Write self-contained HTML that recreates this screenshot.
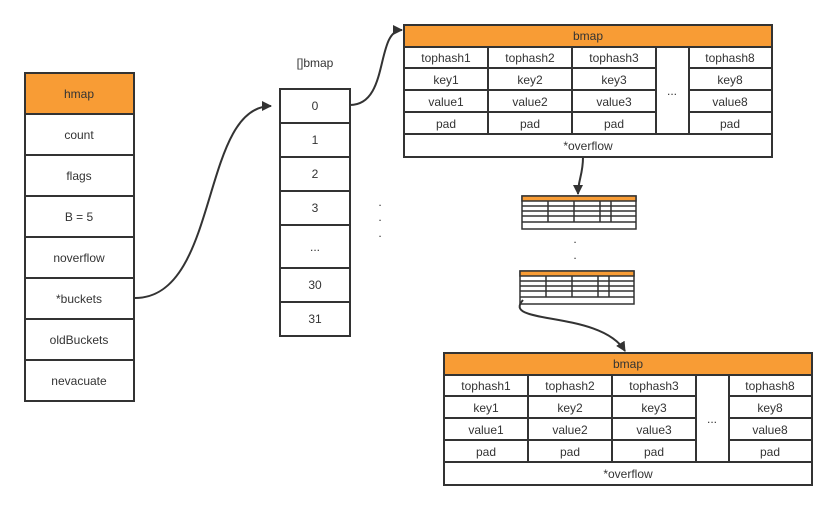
<!DOCTYPE html>
<html><head><meta charset="utf-8"><style>
body{margin:0;background:#fff}
text{font-family:"Liberation Sans",sans-serif;font-size:12px;fill:#333;text-anchor:middle}
</style></head><body>
<svg width="836" height="510" viewBox="0 0 836 510" xmlns="http://www.w3.org/2000/svg">
<defs><marker id="a" markerWidth="10" markerHeight="10" refX="9" refY="5" orient="auto" markerUnits="userSpaceOnUse"><path d="M0,0 L10,5 L0,10 Z" fill="#333"/></marker></defs>
<g stroke="#333" stroke-width="2" fill="#fff">
<!-- hmap -->
<rect x="25" y="73" width="109" height="41" fill="#f89c35"/>
<rect x="25" y="114" width="109" height="41"/><rect x="25" y="155" width="109" height="41"/>
<rect x="25" y="196" width="109" height="41"/><rect x="25" y="237" width="109" height="41"/>
<rect x="25" y="278" width="109" height="41"/><rect x="25" y="319" width="109" height="41"/>
<rect x="25" y="360" width="109" height="41"/>
<!-- array -->
<rect x="280" y="89" width="70" height="34"/><rect x="280" y="123" width="70" height="34"/>
<rect x="280" y="157" width="70" height="34"/><rect x="280" y="191" width="70" height="34"/>
<rect x="280" y="225" width="70" height="43"/><rect x="280" y="268" width="70" height="34"/>
<rect x="280" y="302" width="70" height="34"/>
</g>
<g>
<text x="79" y="98">hmap</text><text x="79" y="139">count</text><text x="79" y="180">flags</text>
<text x="79" y="221">B = 5</text><text x="79" y="262">noverflow</text><text x="79" y="303">*buckets</text>
<text x="79" y="344">oldBuckets</text><text x="79" y="385">nevacuate</text>
<text x="315" y="67">[]bmap</text>
<text x="315" y="110">0</text><text x="315" y="144">1</text><text x="315" y="178">2</text><text x="315" y="212">3</text>
<text x="315" y="251">...</text><text x="315" y="289">30</text><text x="315" y="323">31</text>
<text x="380" y="206">.</text><text x="380" y="221">.</text><text x="380" y="237">.</text>
<text x="575" y="243">.</text><text x="575" y="259">.</text>
</g>
<!-- big bmap template -->
<g id="bm">
<g stroke="#333" stroke-width="2" fill="#fff">
<rect x="404" y="25" width="368" height="132"/>
<rect x="404" y="25" width="368" height="22" fill="#f89c35"/>
<path d="M404 68H656M404 90H656M404 112H656M404 134H772M689 68H772M689 90H772M689 112H772M488 47V134M572 47V134M656 47V134M689 47V134" fill="none"/>
</g>
<text x="588" y="40">bmap</text>
<text x="446" y="62">tophash1</text><text x="530" y="62">tophash2</text><text x="614" y="62">tophash3</text><text x="730" y="62">tophash8</text>
<text x="446" y="84">key1</text><text x="530" y="84">key2</text><text x="614" y="84">key3</text><text x="730" y="84">key8</text>
<text x="446" y="106">value1</text><text x="530" y="106">value2</text><text x="614" y="106">value3</text><text x="730" y="106">value8</text>
<text x="446" y="128">pad</text><text x="530" y="128">pad</text><text x="614" y="128">pad</text><text x="730" y="128">pad</text>
<text x="672" y="95">...</text>
<text x="588" y="150">*overflow</text>
</g>
<use href="#bm" transform="translate(40,328)"/>
<!-- small bmaps -->
<g id="sm" stroke="#333" stroke-width="1.5" fill="#fff">
<rect x="522" y="196" width="114" height="33"/>
<rect x="522" y="196" width="114" height="5" fill="#f89c35"/>
<path d="M522 206H636M522 211H636M522 216H636M522 222H636M548 201V222M574 201V222M600 201V222M611 201V222" fill="none"/>
</g>
<use href="#sm" transform="translate(-2,75)"/>
<!-- connectors -->
<g stroke="#333" stroke-width="2" fill="none">
<path d="M135 298C220 298 200 106 271 106" marker-end="url(#a)"/>
<path d="M350 105C390 105 375 30 402 30" marker-end="url(#a)"/>
<path d="M583 157C583 175 578 180 578 194" marker-end="url(#a)"/>
<path d="M523 300C500 325 600 310 625 351" marker-end="url(#a)"/>
</g>
</svg>
</body></html>
